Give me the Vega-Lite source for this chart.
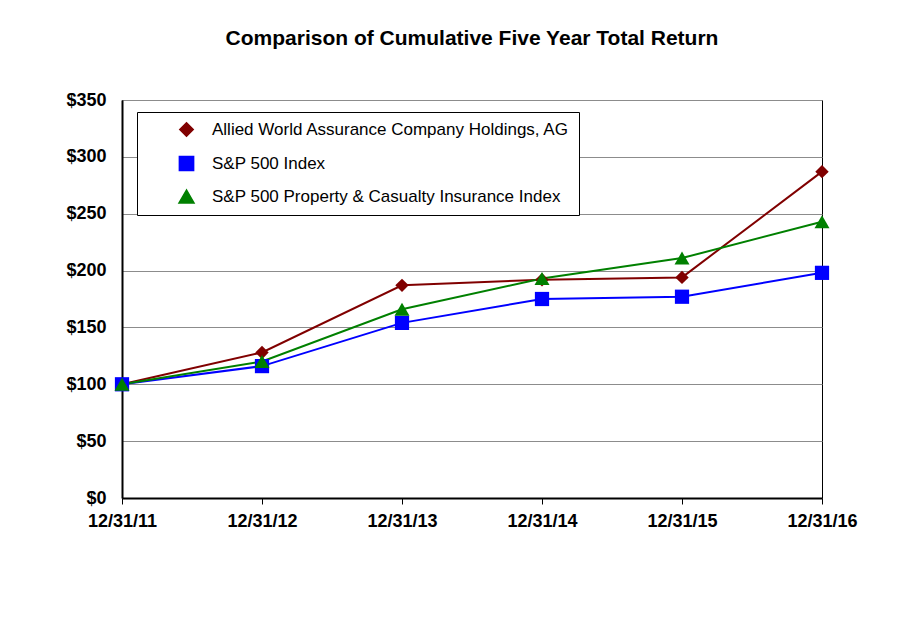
{
  "$schema": "https://vega.github.io/schema/vega-lite/v6.json",
  "width": 700,
  "height": 398,
  "autosize": "none",
  "padding": {"left": 122, "top": 100, "right": 98, "bottom": 133},
  "background": "white",
  "title": {
    "text": "Comparison of Cumulative Five Year Total Return",
    "font": "Liberation Sans",
    "fontSize": 21,
    "fontWeight": "bold",
    "color": "black",
    "anchor": "middle",
    "offset": 42
  },
  "data": {
    "values": [
      {"date": "12/31/11", "series": "Allied World Assurance Company Holdings, AG", "value": 100},
      {"date": "12/31/12", "series": "Allied World Assurance Company Holdings, AG", "value": 128},
      {"date": "12/31/13", "series": "Allied World Assurance Company Holdings, AG", "value": 187},
      {"date": "12/31/14", "series": "Allied World Assurance Company Holdings, AG", "value": 192},
      {"date": "12/31/15", "series": "Allied World Assurance Company Holdings, AG", "value": 194},
      {"date": "12/31/16", "series": "Allied World Assurance Company Holdings, AG", "value": 287},
      {"date": "12/31/11", "series": "S&P 500 Index", "value": 100},
      {"date": "12/31/12", "series": "S&P 500 Index", "value": 116},
      {"date": "12/31/13", "series": "S&P 500 Index", "value": 154},
      {"date": "12/31/14", "series": "S&P 500 Index", "value": 175},
      {"date": "12/31/15", "series": "S&P 500 Index", "value": 177},
      {"date": "12/31/16", "series": "S&P 500 Index", "value": 198},
      {"date": "12/31/11", "series": "S&P 500 Property & Casualty Insurance Index", "value": 100},
      {"date": "12/31/12", "series": "S&P 500 Property & Casualty Insurance Index", "value": 120},
      {"date": "12/31/13", "series": "S&P 500 Property & Casualty Insurance Index", "value": 166},
      {"date": "12/31/14", "series": "S&P 500 Property & Casualty Insurance Index", "value": 193},
      {"date": "12/31/15", "series": "S&P 500 Property & Casualty Insurance Index", "value": 211},
      {"date": "12/31/16", "series": "S&P 500 Property & Casualty Insurance Index", "value": 243}
    ]
  },
  "encoding": {
    "x": {
      "field": "date",
      "type": "ordinal",
      "scale": {"type": "point", "padding": 0},
      "axis": {
        "title": null,
        "labelAngle": 0,
        "labelFont": "Liberation Sans",
        "labelFontSize": 18,
        "labelFontWeight": "bold",
        "labelColor": "black",
        "labelPadding": 8,
        "domainColor": "black",
        "domainWidth": 2,
        "tickColor": "black",
        "tickWidth": 1,
        "tickSize": 6,
        "grid": false
      }
    },
    "y": {
      "field": "value",
      "type": "quantitative",
      "scale": {"domain": [0, 350], "nice": false},
      "axis": {
        "title": null,
        "values": [0, 50, 100, 150, 200, 250, 300, 350],
        "labelExpr": "'$' + datum.value",
        "labelFont": "Liberation Sans",
        "labelFontSize": 18,
        "labelFontWeight": "bold",
        "labelColor": "black",
        "labelPadding": 16,
        "ticks": false,
        "domainColor": "black",
        "domainWidth": 2,
        "grid": true,
        "gridColor": "#8c8c8c",
        "gridWidth": 1
      }
    },
    "color": {
      "field": "series",
      "type": "nominal",
      "scale": {
        "domain": ["Allied World Assurance Company Holdings, AG", "S&P 500 Index", "S&P 500 Property & Casualty Insurance Index"],
        "range": ["#800000", "#0000ff", "#008000"]
      },
      "legend": {
        "title": null,
        "orient": "none",
        "legendX": 15,
        "legendY": 12,
        "direction": "vertical",
        "strokeColor": "black",
        "fillColor": "white",
        "padding": 9,
        "symbolSize": 400,
        "symbolOffset": 32,
        "labelFont": "Liberation Sans",
        "labelFontSize": 17,
        "labelColor": "black",
        "labelOffset": 17,
        "labelLimit": 0,
        "rowPadding": 13
      }
    }
  },
  "layer": [
    {
      "mark": {"type": "line", "strokeWidth": 2}
    },
    {
      "mark": {"type": "point", "filled": true, "opacity": 1},
      "encoding": {
        "shape": {
          "field": "series",
          "type": "nominal",
          "scale": {
            "domain": ["Allied World Assurance Company Holdings, AG", "S&P 500 Index", "S&P 500 Property & Casualty Insurance Index"],
            "range": ["diamond", "square", "triangle-up"]
          },
          "legend": null
        },
        "size": {
          "field": "series",
          "type": "nominal",
          "scale": {
            "domain": ["Allied World Assurance Company Holdings, AG", "S&P 500 Index", "S&P 500 Property & Casualty Insurance Index"],
            "range": [180, 225, 256]
          },
          "legend": null
        }
      }
    }
  ],
  "config": {
    "view": {"stroke": "black", "strokeWidth": 1},
    "font": "Liberation Sans"
  }
}
